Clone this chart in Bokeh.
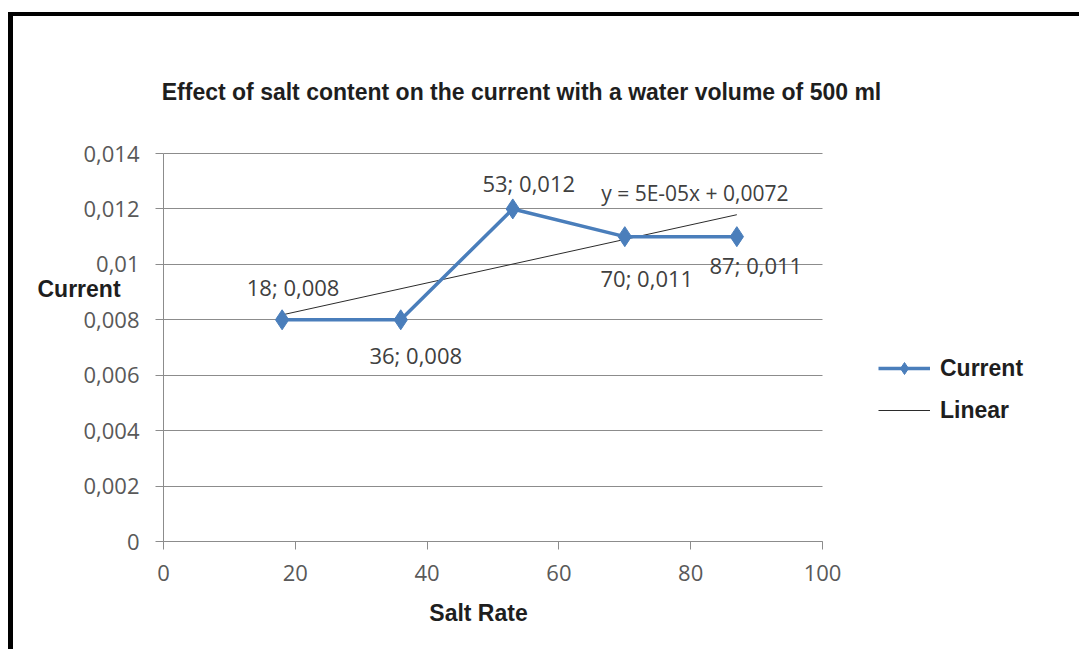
import numpy as np
from bokeh.plotting import figure
from bokeh.models import (Label, Legend, LegendItem, FixedTicker, Range1d,
                          CustomJSTickFormatter)
from bokeh.embed import file_html
from bokeh.resources import INLINE

# Salt rate (x) and measured current (y)
salt_rate = [18, 36, 53, 70, 87]
current = [0.008, 0.008, 0.012, 0.011, 0.011]
x_ticks = [0, 20, 40, 60, 80, 100]
y_ticks = [0, 0.002, 0.004, 0.006, 0.008, 0.010, 0.012, 0.014]
x_limits = (0, 100)
y_limits = (0, 0.014)

title_text = "Effect of salt content on the current with a water volume of 500 ml"
x_title = "Salt Rate"
y_title = "Current"

# per-point label nudges (pixels): right, up
label_nudge = [(11, 33), (15, -35), (16, 26), (22, -41), (19, -28)]

BLUE = "#4a7ebb"
GRID = "#8c8c8c"
TICK_FONT = "Open Sans"
BOLD_FONT = "Liberation Sans"

# canvas geometry (pixels); the plotting area sits inside a wider frame so
# that titles and the legend can be placed freely around it
W, H = 1071, 637
AREA_L, AREA_R, AREA_T, AREA_B = 150, 809, 137, 525  # from canvas top-left
kx = (AREA_R - AREA_L) / (x_limits[1] - x_limits[0])
ky = (AREA_B - AREA_T) / (y_limits[1] - y_limits[0])
x_range = Range1d(x_limits[0] - AREA_L / kx, x_limits[1] + (W - AREA_R) / kx)
y_range = Range1d(y_limits[0] - (H - AREA_B) / ky, y_limits[1] + AREA_T / ky)

p = figure(width=W, height=H, x_range=x_range, y_range=y_range,
           output_backend="svg", toolbar_location=None, min_border=0)
p.styles = {"border-left": "5px solid #000", "border-top": "4px solid #000",
            "margin-left": "8px", "margin-top": "12px"}
p.outline_line_color = None
p.background_fill_color = "white"
p.border_fill_color = "white"

# axes, pinned at the data origin
p.xaxis.fixed_location = 0
p.yaxis.fixed_location = 0
p.xaxis.bounds = x_limits
p.yaxis.bounds = y_limits
p.xaxis.ticker = FixedTicker(ticks=x_ticks)
p.yaxis.ticker = FixedTicker(ticks=y_ticks)
p.yaxis.formatter = CustomJSTickFormatter(
    code="if (tick == 0) return '0'; return tick.toFixed(3).replace(/0+$/, '').replace('.', ',');")
for ax in (p.xaxis, p.yaxis):
    ax.axis_line_color = GRID
    ax.major_tick_line_color = GRID
    ax.minor_tick_line_color = None
    ax.major_tick_in = 0
    ax.major_tick_out = 8
    ax.major_label_text_font = TICK_FONT
    ax.major_label_text_font_size = "22px"
    ax.major_label_text_color = "#595959"
p.yaxis.major_label_standoff = 16
p.xaxis.major_label_standoff = 15
p.xgrid.visible = False

# horizontal gridlines across the plotting area only
grid = p.ygrid[0]
if "cross_bounds" in grid.properties():
    grid.cross_bounds = x_limits
    grid.bounds = y_limits
    grid.grid_line_color = GRID
    grid.grid_line_width = 1
else:
    grid.visible = False
    p.segment(x0=[x_limits[0]] * len(y_ticks), x1=[x_limits[1]] * len(y_ticks),
              y0=y_ticks, y1=y_ticks, line_color=GRID, line_width=1,
              level="underlay")

# linear trendline from a least-squares fit
slope, intercept = np.polyfit(salt_rate, current, 1)
x_fit = [salt_rate[0], salt_rate[-1]]
y_fit = [slope * x + intercept for x in x_fit]
trend = p.line(x_fit, y_fit, line_color="#2b2b2b", line_width=1)

# data series
cur_line = p.line(salt_rate, current, line_color=BLUE, line_width=3.5,
                  line_join="round")
cur_pts = p.scatter(salt_rate, current, marker="diamond", size=20,
                    fill_color=BLUE, line_color=BLUE)

def comma(v, digits):
    return f"{v:.{digits}f}".replace(".", ",")

for x, y, (dx, dy) in zip(salt_rate, current, label_nudge):
    p.add_layout(Label(x=x, y=y, text=f"{x}; {comma(y, 3)}",
                       x_offset=dx, y_offset=dy,
                       text_align="center", text_baseline="middle",
                       text_font=TICK_FONT, text_font_size="22px",
                       text_color="#404040"))

eq_text = f"y = {slope:.0E}x + {comma(intercept, 4)}"
p.add_layout(Label(x=x_fit[-1], y=y_fit[-1], text=eq_text,
                   x_offset=-42, y_offset=22,
                   text_align="center", text_baseline="middle",
                   text_font=TICK_FONT, text_font_size="21px",
                   text_color="#404040"))

# titles (screen offsets from the canvas' lower-left corner)
bold = dict(text_font=BOLD_FONT, text_font_style="bold",
            text_baseline="middle", text_color="#1e1e1e",
            x_units="screen", y_units="screen")
p.add_layout(Label(x=508, y=562, text=title_text, text_align="center",
                   text_font_size="23px", **bold))
p.add_layout(Label(x=24, y=365, text=y_title, text_align="left",
                   text_font_size="23px", **bold))
p.add_layout(Label(x=465, y=41, text=x_title, text_align="center",
                   text_font_size="23px", **bold))

legend = Legend(items=[LegendItem(label="Current", renderers=[cur_line, cur_pts]),
                       LegendItem(label="Linear", renderers=[trend])],
                location=(865, 228), orientation="vertical",
                border_line_color=None, background_fill_alpha=0,
                padding=0, margin=0, spacing=12,
                glyph_width=52, glyph_height=30, label_height=20,
                label_standoff=10,
                label_text_font=BOLD_FONT, label_text_font_style="bold",
                label_text_font_size="23px", label_text_color="#1e1e1e")
p.add_layout(legend, "center")

open("out.html", "w").write(file_html(p, INLINE))
